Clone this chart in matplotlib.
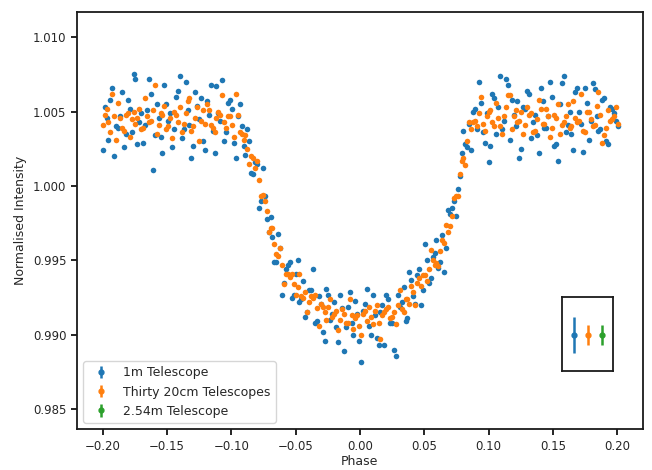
import matplotlib
matplotlib.use("Agg")
import matplotlib.pyplot as plt

# two interleaved phase grids
phase_a = [
    -0.200, -0.197, -0.194, -0.191, -0.188, -0.185, -0.182, -0.179, -0.176, -0.173,
    -0.170, -0.167, -0.164, -0.161, -0.158, -0.155, -0.152, -0.149, -0.146, -0.143,
    -0.140, -0.137, -0.134, -0.131, -0.128, -0.125, -0.122, -0.119, -0.116, -0.113,
    -0.110, -0.107, -0.104, -0.101, -0.098, -0.095, -0.092, -0.089, -0.086, -0.083,
    -0.080, -0.077, -0.074, -0.071, -0.068, -0.065, -0.062, -0.059, -0.056, -0.053,
    -0.050, -0.047, -0.044, -0.041, -0.038, -0.035, -0.032, -0.029, -0.026, -0.023,
    -0.020, -0.017, -0.014, -0.011, -0.008, -0.005, -0.002, 0.001, 0.004, 0.007,
    0.010, 0.013, 0.016, 0.019, 0.022, 0.025, 0.028, 0.031, 0.034, 0.037,
    0.040, 0.043, 0.046, 0.049, 0.052, 0.055, 0.058, 0.061, 0.064, 0.067,
    0.070, 0.073, 0.076, 0.079, 0.082, 0.085, 0.088, 0.091, 0.094, 0.097,
    0.100, 0.103, 0.106, 0.109, 0.112, 0.115, 0.118, 0.121, 0.124, 0.127,
    0.130, 0.133, 0.136, 0.139, 0.142, 0.145, 0.148, 0.151, 0.154, 0.157,
    0.160, 0.163, 0.166, 0.169, 0.172, 0.175, 0.178, 0.181, 0.184, 0.187,
    0.190, 0.193, 0.196, 0.199,
]
phase_b = [
    -0.1985, -0.1955, -0.1925, -0.1895, -0.1865, -0.1835, -0.1805, -0.1775, -0.1745, -0.1715,
    -0.1685, -0.1655, -0.1625, -0.1595, -0.1565, -0.1535, -0.1505, -0.1475, -0.1445, -0.1415,
    -0.1385, -0.1355, -0.1325, -0.1295, -0.1265, -0.1235, -0.1205, -0.1175, -0.1145, -0.1115,
    -0.1085, -0.1055, -0.1025, -0.0995, -0.0965, -0.0935, -0.0905, -0.0875, -0.0845, -0.0815,
    -0.0785, -0.0755, -0.0725, -0.0695, -0.0665, -0.0635, -0.0605, -0.0575, -0.0545, -0.0515,
    -0.0485, -0.0455, -0.0425, -0.0395, -0.0365, -0.0335, -0.0305, -0.0275, -0.0245, -0.0215,
    -0.0185, -0.0155, -0.0125, -0.0095, -0.0065, -0.0035, -0.0005, 0.0025, 0.0055, 0.0085,
    0.0115, 0.0145, 0.0175, 0.0205, 0.0235, 0.0265, 0.0295, 0.0325, 0.0355, 0.0385,
    0.0415, 0.0445, 0.0475, 0.0505, 0.0535, 0.0565, 0.0595, 0.0625, 0.0655, 0.0685,
    0.0715, 0.0745, 0.0775, 0.0805, 0.0835, 0.0865, 0.0895, 0.0925, 0.0955, 0.0985,
    0.1015, 0.1045, 0.1075, 0.1105, 0.1135, 0.1165, 0.1195, 0.1225, 0.1255, 0.1285,
    0.1315, 0.1345, 0.1375, 0.1405, 0.1435, 0.1465, 0.1495, 0.1525, 0.1555, 0.1585,
    0.1615, 0.1645, 0.1675, 0.1705, 0.1735, 0.1765, 0.1795, 0.1825, 0.1855, 0.1885,
    0.1915, 0.1945, 0.1975, 0.2005,
]

# 1m telescope (blue)
flux_1m_a = [
    1.0024, 1.0046, 1.0058, 1.0020, 1.0039, 1.0063, 1.0035, 1.0052, 1.0075, 1.0028,
    1.0049, 1.0041, 1.0072, 1.0011, 1.0055, 1.0033, 1.0068, 1.0044, 1.0026, 1.0060,
    1.0074, 1.0038, 1.0051, 1.0019, 1.0063, 1.0045, 1.0030, 1.0057, 1.0068, 1.0022,
    1.0049, 1.0071, 1.0036, 1.0058, 1.0029, 1.0047, 1.0040, 1.0021, 1.0030, 1.0008,
    1.0015, 0.9990, 0.9993, 0.9969, 0.9966, 0.9949, 0.9958, 0.9935, 0.9947, 0.9925,
    0.9941, 0.9922, 0.9936, 0.9915, 0.9930, 0.9908, 0.9926, 0.9902, 0.9931, 0.9910,
    0.9922, 0.9895, 0.9918, 0.9905, 0.9929, 0.9900, 0.9914, 0.9882, 0.9921, 0.9906,
    0.9927, 0.9898, 0.9915, 0.9893, 0.9924, 0.9908, 0.9886, 0.9919, 0.9932, 0.9911,
    0.9937, 0.9921, 0.9944, 0.9930, 0.9950, 0.9938, 0.9955, 0.9945, 0.9967, 0.9958,
    0.9981, 0.9990, 0.9998, 1.0022, 1.0028, 1.0042, 1.0050, 1.0038, 1.0056, 1.0029,
    1.0016, 1.0062, 1.0035, 1.0074, 1.0044, 1.0068, 1.0058, 1.0040, 1.0019, 1.0053,
    1.0064, 1.0032, 1.0048, 1.0022, 1.0057, 1.0039, 1.0070, 1.0027, 1.0017, 1.0069,
    1.0036, 1.0050, 1.0024, 1.0066, 1.0042, 1.0066, 1.0031, 1.0069, 1.0047, 1.0038,
    1.0059, 1.0028, 1.0052, 1.0044,
]
flux_1m_b = [
    1.0053, 1.0031, 1.0066, 1.0040, 1.0047, 1.0026, 1.0058, 1.0036, 1.0072, 1.0043,
    1.0029, 1.0051, 1.0062, 1.0034, 1.0046, 1.0022, 1.0055, 1.0049, 1.0038, 1.0064,
    1.0032, 1.0070, 1.0041, 1.0027, 1.0054, 1.0059, 1.0024, 1.0048, 1.0037, 1.0067,
    1.0044, 1.0030, 1.0056, 1.0052, 1.0019, 1.0055, 1.0027, 1.0038, 1.0009, 1.0016,
    0.9985, 1.0012, 0.9978, 0.9979, 0.9949, 0.9968, 0.9927, 0.9944, 0.9949, 0.9927,
    0.9950, 0.9924, 0.9912, 0.9930, 0.9944, 0.9909, 0.9921, 0.9896, 0.9927, 0.9914,
    0.9905, 0.9927, 0.9889, 0.9919, 0.9908, 0.9923, 0.9896, 0.9916, 0.9931, 0.9900,
    0.9913, 0.9893, 0.9920, 0.9927, 0.9908, 0.9890, 0.9927, 0.9922, 0.9909, 0.9942,
    0.9926, 0.9940, 0.9920, 0.9961, 0.9935, 0.9952, 0.9964, 0.9949, 0.9942, 0.9984,
    0.9985, 0.9980, 1.0007, 1.0037, 1.0026, 1.0024, 1.0052, 1.0070, 1.0036, 1.0049,
    1.0027, 1.0059, 1.0053, 1.0038, 1.0072, 1.0031, 1.0048, 1.0057, 1.0025, 1.0052,
    1.0062, 1.0043, 1.0034, 1.0066, 1.0039, 1.0047, 1.0060, 1.0028, 1.0055, 1.0074,
    1.0041, 1.0035, 1.0063, 1.0050, 1.0023, 1.0056, 1.0044, 1.0065, 1.0037, 1.0058,
    1.0030, 1.0053, 1.0049, 1.0040,
]

# thirty 20cm telescopes (orange)
flux_20cm_b = [
    1.0048, 1.0043, 1.0062, 1.0031, 1.0046, 1.0037, 1.0049, 1.0045, 1.0042, 1.0052,
    1.0039, 1.0047, 1.0044, 1.0068, 1.0041, 1.0048, 1.0038, 1.0046, 1.0050, 1.0043,
    1.0036, 1.0049, 1.0059, 1.0040, 1.0053, 1.0044, 1.0042, 1.0051, 1.0039, 1.0046,
    1.0048, 1.0043, 1.0047, 1.0041, 1.0062, 1.0036, 1.0031, 1.0025, 1.0020, 1.0012,
    1.0004, 0.9994, 0.9983, 0.9972, 0.9961, 0.9953, 0.9947, 0.9941, 0.9939, 0.9934,
    0.9932, 0.9926, 0.9929, 0.9922, 0.9925, 0.9918, 0.9921, 0.9915, 0.9919, 0.9912,
    0.9916, 0.9910, 0.9914, 0.9908, 0.9913, 0.9911, 0.9906, 0.9914, 0.9909, 0.9912,
    0.9916, 0.9908, 0.9913, 0.9917, 0.9911, 0.9915, 0.9920, 0.9917, 0.9924, 0.9921,
    0.9929, 0.9935, 0.9933, 0.9940, 0.9944, 0.9950, 0.9948, 0.9956, 0.9962, 0.9969,
    0.9980, 0.9993, 1.0008, 1.0019, 1.0030, 1.0038, 1.0044, 1.0049, 1.0042, 1.0047,
    1.0051, 1.0040, 1.0046, 1.0035, 1.0053, 1.0061, 1.0047, 1.0043, 1.0050, 1.0041,
    1.0048, 1.0036, 1.0045, 1.0052, 1.0042, 1.0047, 1.0039, 1.0046, 1.0035, 1.0043,
    1.0055, 1.0040, 1.0046, 1.0044, 1.0037, 1.0050, 1.0045, 1.0041, 1.0063, 1.0029,
    1.0039, 1.0044, 1.0047, 1.0042,
]
flux_20cm_a = [
    1.0041, 1.0052, 1.0036, 1.0047, 1.0056, 1.0039, 1.0048, 1.0033, 1.0050, 1.0046,
    1.0038, 1.0059, 1.0043, 1.0051, 1.0035, 1.0049, 1.0054, 1.0040, 1.0032, 1.0048,
    1.0053, 1.0042, 1.0057, 1.0037, 1.0046, 1.0030, 1.0051, 1.0055, 1.0041, 1.0036,
    1.0050, 1.0061, 1.0039, 1.0047, 1.0033, 1.0048, 1.0035, 1.0034, 1.0015, 1.0019,
    1.0017, 0.9993, 0.9990, 0.9969, 0.9972, 0.9954, 0.9958, 0.9934, 0.9941, 0.9941,
    0.9927, 0.9941, 0.9925, 0.9915, 0.9926, 0.9927, 0.9906, 0.9919, 0.9910, 0.9924,
    0.9914, 0.9903, 0.9917, 0.9908, 0.9924, 0.9904, 0.9913, 0.9900, 0.9916, 0.9919,
    0.9907, 0.9920, 0.9897, 0.9915, 0.9919, 0.9912, 0.9907, 0.9930, 0.9915, 0.9924,
    0.9933, 0.9920, 0.9938, 0.9940, 0.9936, 0.9957, 0.9947, 0.9946, 0.9964, 0.9974,
    0.9973, 0.9992, 0.9993, 1.0017, 1.0014, 1.0043, 1.0043, 1.0040, 1.0060, 1.0037,
    1.0050, 1.0043, 1.0056, 1.0040, 1.0047, 1.0061, 1.0038, 1.0051, 1.0044, 1.0035,
    1.0053, 1.0049, 1.0037, 1.0058, 1.0042, 1.0052, 1.0033, 1.0048, 1.0055, 1.0041,
    1.0047, 1.0039, 1.0057, 1.0043, 1.0062, 1.0036, 1.0050, 1.0040, 1.0054, 1.0048,
    1.0034, 1.0051, 1.0045, 1.0053,
]

# typical error bars shown in the inset box
err_labels = ["1m Telescope", "Thirty 20cm Telescopes", "2.54m Telescope"]
err_sizes = [0.0012, 0.00067, 0.00067]
err_level = 0.990

colors = ["#1f77b4", "#ff7f0e", "#2ca02c"]
TXT = "#262626"

plt.rcParams["font.family"] = "DejaVu Sans"
fig = plt.figure(figsize=(6.52, 4.70), dpi=100)
ax = fig.add_axes([0.118, 0.087, 0.868, 0.887])

ax.plot(phase_a + phase_b, flux_1m_a + flux_1m_b, "o", ms=4, mew=0,
        color=colors[0], zorder=2)
ax.plot(phase_b + phase_a, flux_20cm_b + flux_20cm_a, "o", ms=4, mew=0,
        color=colors[1], zorder=2)

ax.set_xlim(-0.22, 0.22)
ax.set_ylim(0.98366, 1.01168)
ax.set_xticks([-0.20, -0.15, -0.10, -0.05, 0.00, 0.05, 0.10, 0.15, 0.20])
ax.set_yticks([0.985, 0.990, 0.995, 1.000, 1.005, 1.010])
ax.ticklabel_format(useOffset=False)
ax.set_xlabel("Phase", fontsize=9, color=TXT, labelpad=2)
ax.set_ylabel("Normalised Intensity", fontsize=9, color=TXT)
ax.tick_params(labelsize=8.5, labelcolor=TXT, length=4, width=1.2)
for s in ax.spines.values():
    s.set_linewidth(1.3)
    s.set_color("#1a1a1a")

# inset with error bar sizes
ins = fig.add_axes([0.862, 0.2106, 0.078, 0.157])
handles = []
for i, (lab, e) in enumerate(zip(err_labels, err_sizes)):
    h = ins.errorbar(i + 1, err_level, yerr=e, fmt="o", ms=3.5, color=colors[i],
                     elinewidth=1.8, label=lab)
    handles.append(h)
ins.set_xlim(0.143, 3.786)
ins.set_ylim(0.98758, 0.99255)
ins.set_xticks([])
ins.set_yticks([])
for s in ins.spines.values():
    s.set_linewidth(1.3)
    s.set_color("#1a1a1a")

ax.legend(handles, err_labels, loc="lower left", fontsize=9, labelcolor=TXT)

fig.savefig("out.png", dpi=100)
